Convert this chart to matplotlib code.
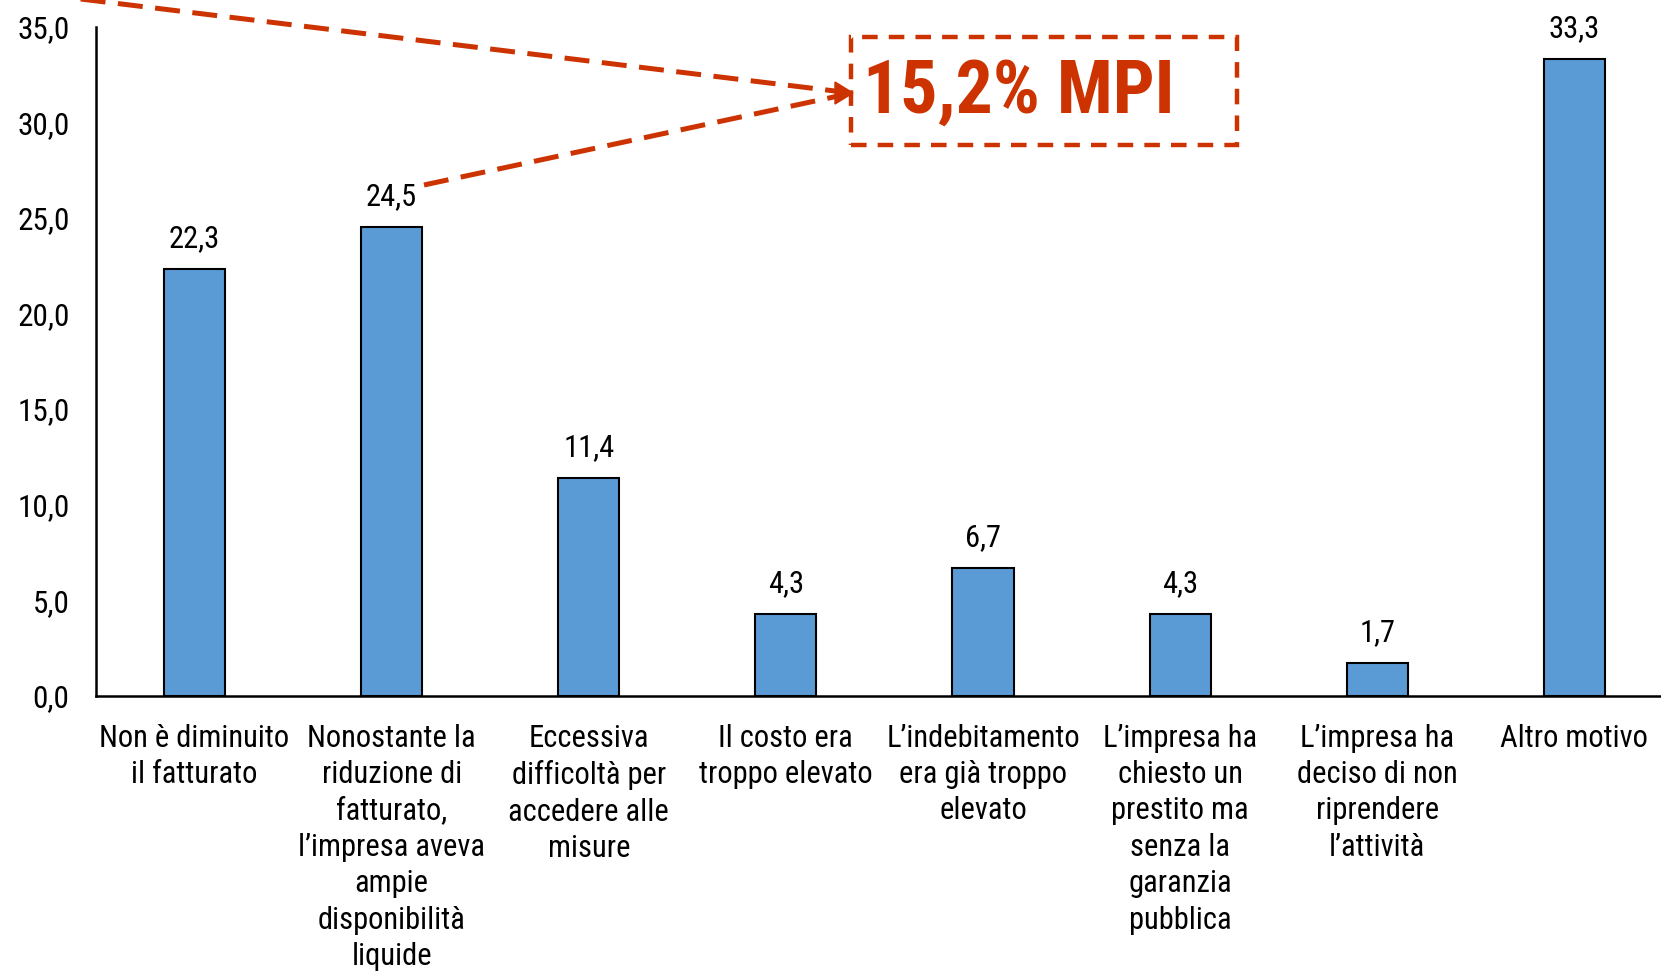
import matplotlib
matplotlib.use("Agg")
import matplotlib.pyplot as plt
from matplotlib.lines import Line2D
from matplotlib.patches import Rectangle, Polygon

categories = [
    "Non è diminuito\nil fatturato",
    "Nonostante la\nriduzione di\nfatturato,\nl’impresa aveva\nampie\ndisponibilità\nliquide",
    "Eccessiva\ndifficoltà per\naccedere alle\nmisure",
    "Il costo era\ntroppo elevato",
    "L’indebitamento\nera già troppo\nelevato",
    "L’impresa ha\nchiesto un\nprestito ma\nsenza la\ngaranzia\npubblica",
    "L’impresa ha\ndeciso di non\nriprendere\nl’attività",
    "Altro motivo",
]
values = [22.3, 24.5, 11.4, 4.3, 6.7, 4.3, 1.7, 33.3]
yticks = [0, 5, 10, 15, 20, 25, 30, 35]
annotation_text = "15,2% MPI"

plt.rcParams["font.family"] = ["Roboto Condensed", "DejaVu Sans"]

W, H = 1661, 971
fig = plt.figure(figsize=(W / 100, H / 100), dpi=100)
ax = fig.add_axes([96 / W, 1 - 696 / H, 1 - 96 / W, (696 - 26.5) / H])

bar_color = "#5B9BD5"
x = list(range(len(values)))
ax.bar(x, values, width=0.31, color=bar_color, edgecolor="black", linewidth=1.5, zorder=3)
for xi, v in zip(x, values):
    ax.annotate(f"{v:.1f}".replace(".", ","), (xi, v), xytext=(0, 11.5), textcoords="offset points",
                ha="center", va="bottom", fontsize=22)

ax.set_xlim(-0.5, 7.44)
ax.set_ylim(0, 35)
ax.set_yticks(yticks)
ax.set_yticklabels([f"{t:.1f}".replace(".", ",") for t in yticks], fontsize=22.5)
ax.set_xticks(x)
ax.set_xticklabels(categories, fontsize=22, linespacing=1.32, va="top")
ax.tick_params(axis="both", length=0)
ax.tick_params(axis="x", pad=20)
ax.tick_params(axis="y", pad=19)
for s in ["top", "right"]:
    ax.spines[s].set_visible(False)
ax.spines["left"].set_linewidth(1.8)
ax.spines["bottom"].set_linewidth(1.8)

red = "#CC3300"

def fx(px):
    return px / W

def fy(py):
    return 1 - py / H

tip = (853, 93)
fig.add_artist(Line2D([fx(-30), fx(tip[0] - 10)], [fy(-14.5), fy(tip[1] - 1)], color=red, lw=3.6,
                      dashes=(5, 2.5), transform=fig.transFigure))
fig.add_artist(Line2D([fx(424), fx(tip[0] - 10)], [fy(185), fy(tip[1] + 2)], color=red, lw=3.6,
                      dashes=(5, 2.5), transform=fig.transFigure))
fig.add_artist(Polygon([(fx(tip[0]), fy(tip[1])), (fx(tip[0] - 18), fy(tip[1] - 11)),
                        (fx(tip[0] - 18), fy(tip[1] + 11))], closed=True, color=red,
                       transform=fig.transFigure))
fig.add_artist(Rectangle((fx(851), fy(145)), fx(1237) - fx(851), fy(37) - fy(145), fill=False,
                         edgecolor=red, lw=3.2, linestyle=(0, (3.5, 2.5)), transform=fig.transFigure))
fig.text(fx(1019), fy(93), annotation_text, color=red, fontsize=53, fontweight="bold",
         ha="center", va="center")

fig.savefig("out.png", dpi=100)
